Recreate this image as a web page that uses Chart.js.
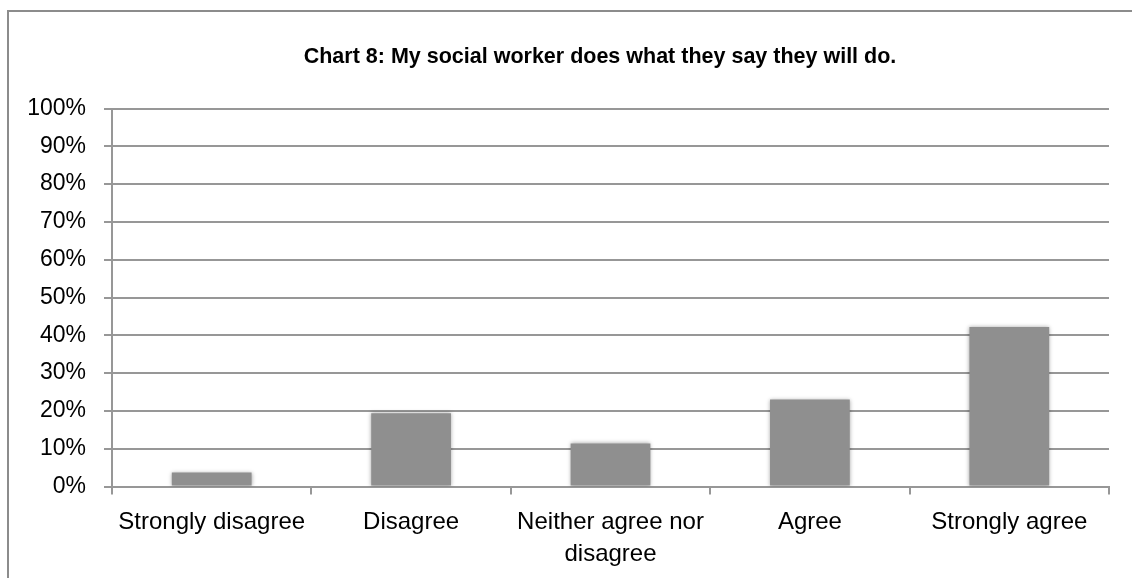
<!DOCTYPE html>
<html>
<head>
<meta charset="utf-8">
<script src="https://cdn.jsdelivr.net/npm/chart.js@4/dist/chart.umd.min.js"></script>
<style>
html,body{margin:0;padding:0;background:#fff;}
#wrap{position:relative;width:1132px;height:578px;}
</style>
</head>
<body>
<div id="wrap"><canvas id="c" width="1132" height="578"></canvas></div>
<script>
const title = "Chart 8: My social worker does what they say they will do.";
const categories = ["Strongly disagree", "Disagree", ["Neither agree nor", "disagree"], "Agree", "Strongly agree"];
const values = [3.7, 19.4, 11.4, 23.0, 42.2];
const yMin = 0, yMax = 100, yStep = 10;

const FONT = "'Liberation Sans', Arial, sans-serif";
const GRID = '#979797';

const framePlugin = {
  id: 'frame',
  beforeDraw(chart) {
    const ctx = chart.ctx;
    ctx.save();
    ctx.strokeStyle = '#8c8c8c';
    ctx.lineWidth = 2;
    ctx.beginPath();
    ctx.moveTo(8, 578);
    ctx.lineTo(8, 11);
    ctx.lineTo(1132, 11);
    ctx.stroke();
    ctx.fillStyle = '#000';
    let f = "bold 26px 'Liberation Sans Narrow'";
    ctx.font = f;
    if (ctx.measureText(title).width > 640) f = "bold 21.5px " + FONT;
    ctx.font = f;
    ctx.textAlign = 'center';
    ctx.textBaseline = 'alphabetic';
    ctx.fillText(title, 600, 63);
    ctx.restore();
  },
  beforeDatasetsDraw(chart) {
    const ctx = chart.ctx;
    ctx.save();
    ctx.shadowColor = 'rgba(0,0,0,0.35)';
    ctx.shadowBlur = 4;
  },
  afterDatasetsDraw(chart) {
    chart.ctx.restore();
  }
};

new Chart(document.getElementById('c'), {
  type: 'bar',
  data: {
    labels: categories,
    datasets: [{
      data: values,
      backgroundColor: '#8f8f8f',
      borderWidth: 0,
      barPercentage: 0.4,
      categoryPercentage: 1.0
    }]
  },
  options: {
    responsive: false,
    animation: false,
    devicePixelRatio: 1,
    layout: { padding: { left: 8, right: 23, top: 108.5, bottom: 0 } },
    plugins: { legend: { display: false }, title: { display: false }, tooltip: { enabled: false } },
    scales: {
      x: {
        afterFit(s) { s.height = 91.5; },
        grid: { display: true, drawOnChartArea: false, drawTicks: true, tickLength: 8, color: GRID, lineWidth: 2, offset: true },
        border: { display: true, color: GRID, width: 2 },
        ticks: { color: '#000', font: { family: FONT, size: 24, lineHeight: 1.34 }, padding: 12, maxRotation: 0, autoSkip: false }
      },
      y: {
        min: yMin, max: yMax,
        afterFit(s) { s.width = 104; },
        grid: { color: GRID, lineWidth: 2, tickLength: 8, drawTicks: true },
        border: { display: true, color: GRID, width: 2 },
        ticks: { stepSize: yStep, color: '#000', font: { family: FONT, size: 23 }, padding: 18, callback: v => v + '%' }
      }
    }
  },
  plugins: [framePlugin]
});
</script>
</body>
</html>
